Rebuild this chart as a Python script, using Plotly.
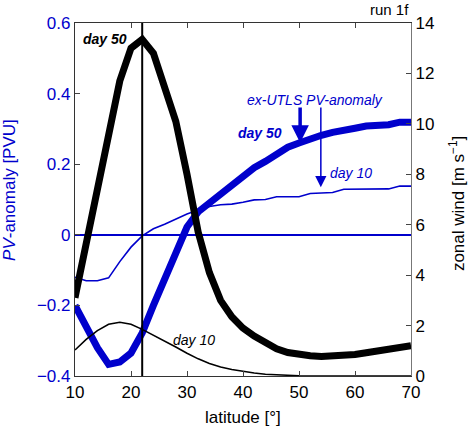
import plotly.graph_objects as go

# latitude grid (deg N)
lat = [10, 12, 14, 16, 18, 20, 22, 24, 26, 28, 30, 32, 34, 36, 38, 40,
       42, 44, 46, 48, 50, 52, 54, 56, 58, 60, 62, 64, 66, 68, 70]

# zonal wind [m/s]
wind_day50 = [3.1, 5.3, 7.5, 9.6, 11.7, 13.0, 13.35, 12.8, 11.5, 10.1, 8.0,
              5.7, 4.1, 3.0, 2.35, 1.9, 1.58, 1.3, 1.08, 0.93, 0.84, 0.8,
              0.77, 0.78, 0.8, 0.85, 0.92, 1.0, 1.05, 1.12, 1.2]
wind_day10 = [1.03, 1.45, 1.8, 2.05, 2.13, 2.05, 1.85, 1.62, 1.4, 1.15, 0.9,
              0.68, 0.5, 0.36, 0.26, 0.18, 0.12, 0.07, 0.04, 0.02, 0.01, 0.0,
              0.0, 0.0, 0.0, 0.0, 0.0, 0.0, 0.0, 0.0, 0.0]

# ex-UTLS PV-anomaly [PVU]
pv_day50 = [-0.2, -0.265, -0.32, -0.367, -0.36, -0.335, -0.278, -0.2, -0.128,
            -0.058, 0.022, 0.065, 0.09, 0.112, 0.14, 0.165, 0.19, 0.208, 0.228,
            0.248, 0.26, 0.272, 0.282, 0.29, 0.298, 0.302, 0.308, 0.31, 0.312,
            0.319, 0.319]
pv_day10 = [-0.12, -0.13, -0.13, -0.122, -0.076, -0.035, -0.003, 0.017, 0.03,
            0.044, 0.059, 0.07, 0.08, 0.085, 0.087, 0.092, 0.099, 0.1, 0.108,
            0.108, 0.108, 0.117, 0.118, 0.12, 0.129, 0.129, 0.129, 0.129, 0.13,
            0.138, 0.138]

jet_lat = 22

pv_ticks = [-0.4, -0.2, 0, 0.2, 0.4, 0.6]
pv_ticklabels = ['\u22120.4', '\u22120.2', '0', '0.2', '0.4', '0.6']
wind_ticks = [0, 2, 4, 6, 8, 10, 12, 14]
lat_ticks = [10, 20, 30, 40, 50, 60, 70]

blue = '#0000cc'
font = 'Liberation Sans, Arial, sans-serif'

fig = go.Figure()

fig.add_trace(go.Scatter(x=lat, y=pv_day10, mode='lines',
                         line=dict(color=blue, width=1.6)))
fig.add_trace(go.Scatter(x=lat, y=pv_day50, mode='lines',
                         line=dict(color=blue, width=7)))
fig.add_trace(go.Scatter(x=lat, y=wind_day10, mode='lines', yaxis='y2',
                         line=dict(color='black', width=1.6)))
fig.add_trace(go.Scatter(x=lat, y=wind_day50, mode='lines', yaxis='y2',
                         line=dict(color='black', width=7)))

fig.add_shape(type='line', x0=jet_lat, x1=jet_lat, y0=0, y1=1,
              xref='x', yref='paper', line=dict(color='black', width=2))

fig.update_layout(
    width=474, height=428,
    margin=dict(l=75, r=63, t=23, b=52),
    paper_bgcolor='white', plot_bgcolor='white',
    showlegend=False,
    font=dict(family=font, size=16, color='black'),
    xaxis=dict(range=[10, 70], tickvals=lat_ticks, ticks='inside', ticklen=5,
               showline=True, linecolor='#333', linewidth=1.2, mirror='ticks',
               showgrid=False, zeroline=False, tickfont=dict(size=17)),
    yaxis=dict(range=[-0.4, 0.6], tickvals=pv_ticks, ticktext=pv_ticklabels,
               ticks='inside', ticklen=5, showline=True, linecolor='#333',
               linewidth=1.2, showgrid=False, zeroline=True,
               zerolinecolor=blue, zerolinewidth=2,
               tickfont=dict(size=17, color=blue)),
    yaxis2=dict(range=[0, 14], tickvals=wind_ticks, overlaying='y',
                side='right', ticks='inside', ticklen=5, showline=True,
                linecolor='#777', linewidth=1.2, showgrid=False,
                zeroline=False, tickfont=dict(size=17, color='black')),
)

# axis titles
fig.add_annotation(text='latitude [\u00b0]', xref='paper', yref='paper',
                   x=0.5, y=-0.118, yanchor='middle', showarrow=False,
                   font=dict(size=17))
fig.add_annotation(text='<i>PV</i>-anomaly [PVU]', xref='paper', yref='paper',
                   x=-0.1935, y=0.527, textangle=-90, showarrow=False,
                   xanchor='center', yanchor='middle',
                   font=dict(size=17, color=blue))
fig.add_annotation(text='zonal wind [m s<sup>\u22121</sup>]', xref='paper',
                   yref='paper', x=1.137, y=0.487, textangle=-90,
                   showarrow=False, xanchor='center', yanchor='middle',
                   font=dict(size=17))
fig.add_annotation(text='run 1f', xref='paper', yref='paper', x=1.0,
                   y=1.037, xanchor='right', yanchor='middle',
                   showarrow=False, font=dict(size=15))

# curve labels
fig.add_annotation(text='<b><i>day 50</i></b>', x=15.4, y=13.37, yref='y2',
                   showarrow=False, font=dict(size=14))
fig.add_annotation(text='<i>day 10</i>', x=31.25, y=1.43, yref='y2',
                   showarrow=False, font=dict(size=14))
fig.add_annotation(text='<i>ex-UTLS PV-anomaly</i>', x=52.9, y=0.382,
                   showarrow=False, font=dict(size=14, color=blue))
fig.add_annotation(text='<b><i>day 50</i></b>', x=43.0, y=0.288,
                   showarrow=False, font=dict(size=14, color=blue))
fig.add_annotation(text='<i>day 10</i>', x=59.3, y=0.175,
                   showarrow=False, font=dict(size=14, color=blue))

# arrows
fig.add_annotation(x=50.2, y=0.261, ax=50.2, ay=0.365, axref='x', ayref='y',
                   text='', showarrow=True, arrowhead=2, arrowsize=1,
                   arrowwidth=3.5, arrowcolor=blue)
fig.add_annotation(x=53.9, y=0.135, ax=53.9, ay=0.365, axref='x', ayref='y',
                   text='', showarrow=True, arrowhead=2, arrowsize=1.5,
                   arrowwidth=1.5, arrowcolor=blue)

# drop the default page margin so the figure fills the window exactly
fig.write_html('out.html', config={'displayModeBar': False},
               post_script="document.body.style.margin='0';")
